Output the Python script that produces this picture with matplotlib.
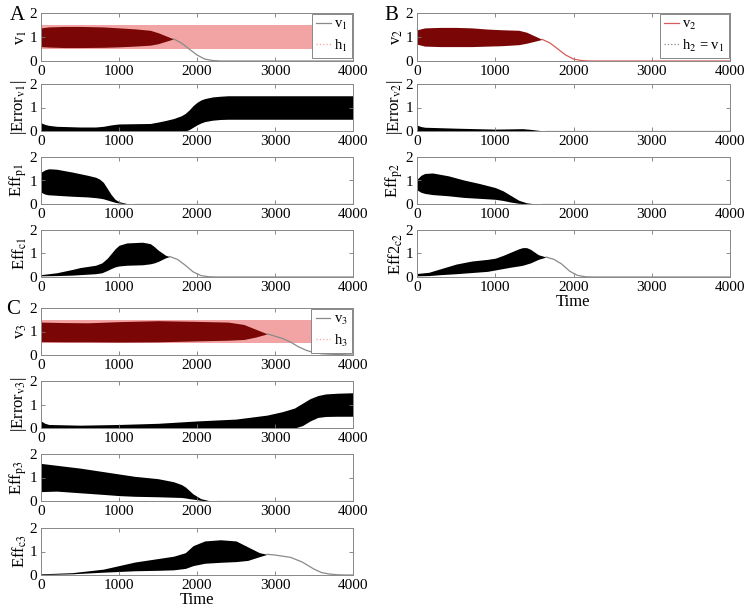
import numpy as np
import matplotlib
matplotlib.use("Agg")
import matplotlib.pyplot as plt
from matplotlib.lines import Line2D

plt.rcParams['font.family'] = ['Liberation Serif', 'DejaVu Serif']
plt.rcParams['mathtext.fontset'] = 'stix'

# ---- data (envelopes of the fast oscillations) ----
t_h = [0, 4000]
h_hi = [1.5, 1.5]
h_lo = [0.5, 0.5]

# panel A
t_v1 = [0, 100, 300, 500, 800, 1000, 1200, 1400, 1500, 1600, 1700, 1800, 1900, 2000, 2100, 2200, 2300, 4000]
v1_hi = [1.38, 1.42, 1.44, 1.44, 1.42, 1.38, 1.34, 1.28, 1.18, 1.05, 0.92, 0.75, 0.50, 0.25, 0.08, 0.02, 0.0, 0.0]
v1_lo = [0.60, 0.58, 0.56, 0.56, 0.57, 0.59, 0.62, 0.66, 0.72, 0.82, 0.92, 0.75, 0.50, 0.25, 0.08, 0.02, 0.0, 0.0]

t_e1 = [0, 50, 100, 200, 500, 700, 800, 900, 1000, 1400, 1500, 1600, 1700, 1800, 1850, 1900, 1950, 2000, 2050, 2100, 2200, 2300, 2400, 4000]
e1_hi = [0.35, 0.28, 0.24, 0.20, 0.17, 0.17, 0.20, 0.26, 0.30, 0.32, 0.38, 0.45, 0.53, 0.65, 0.75, 0.90, 1.08, 1.22, 1.32, 1.38, 1.45, 1.48, 1.50, 1.50]
e1_lo = [0.0, 0.0, 0.0, 0.0, 0.0, 0.0, 0.0, 0.0, 0.0, 0.0, 0.0, 0.0, 0.0, 0.0, 0.0, 0.06, 0.16, 0.26, 0.34, 0.40, 0.46, 0.49, 0.50, 0.50]

t_p1 = [0, 50, 100, 200, 400, 600, 700, 750, 800, 850, 900, 950, 1000, 1100, 1200, 4000]
p1_hi = [1.35, 1.45, 1.50, 1.48, 1.36, 1.22, 1.14, 1.06, 0.92, 0.66, 0.40, 0.20, 0.10, 0.02, 0.0, 0.0]
p1_lo = [0.50, 0.42, 0.39, 0.37, 0.33, 0.30, 0.27, 0.25, 0.22, 0.17, 0.12, 0.07, 0.04, 0.01, 0.0, 0.0]

t_c1 = [0, 200, 400, 500, 700, 780, 850, 900, 950, 1000, 1100, 1300, 1400, 1450, 1500, 1600, 1650, 1750, 1850, 1950, 2050, 2150, 2250, 4000]
c1_hi = [0.10, 0.18, 0.32, 0.40, 0.50, 0.60, 0.80, 1.00, 1.20, 1.35, 1.45, 1.48, 1.42, 1.30, 1.15, 0.92, 0.87, 0.75, 0.50, 0.22, 0.06, 0.01, 0.0, 0.0]
c1_lo = [0.05, 0.06, 0.08, 0.10, 0.14, 0.18, 0.28, 0.36, 0.43, 0.47, 0.50, 0.52, 0.56, 0.60, 0.66, 0.82, 0.87, 0.75, 0.50, 0.22, 0.06, 0.01, 0.0, 0.0]

# panel B
t_v2 = [0, 100, 300, 500, 700, 900, 1100, 1300, 1400, 1500, 1600, 1700, 1800, 1900, 2000, 2100, 2200, 4000]
v2_hi = [1.30, 1.38, 1.40, 1.40, 1.38, 1.33, 1.30, 1.28, 1.20, 1.05, 0.90, 0.75, 0.50, 0.25, 0.08, 0.02, 0.0, 0.0]
v2_lo = [0.70, 0.62, 0.60, 0.60, 0.60, 0.62, 0.64, 0.68, 0.74, 0.82, 0.90, 0.75, 0.50, 0.25, 0.08, 0.02, 0.0, 0.0]

t_e2 = [0, 50, 100, 300, 500, 1000, 1350, 1450, 1550, 1650, 4000]
e2_hi = [0.25, 0.19, 0.16, 0.14, 0.12, 0.08, 0.10, 0.07, 0.03, 0.0, 0.0]
e2_lo = [0.0, 0.0, 0.0, 0.0, 0.0, 0.0, 0.0, 0.0, 0.0, 0.0, 0.0]

t_p2 = [0, 50, 100, 200, 400, 600, 800, 1000, 1100, 1200, 1300, 1400, 1500, 1600, 4000]
p2_hi = [1.05, 1.22, 1.30, 1.32, 1.20, 1.02, 0.87, 0.70, 0.56, 0.36, 0.16, 0.05, 0.01, 0.0, 0.0]
p2_lo = [0.60, 0.50, 0.45, 0.40, 0.35, 0.28, 0.24, 0.20, 0.15, 0.08, 0.03, 0.01, 0.0, 0.0, 0.0]

t_c2 = [0, 150, 300, 500, 700, 900, 1000, 1100, 1200, 1300, 1350, 1400, 1450, 1550, 1650, 1750, 1850, 1950, 2050, 2150, 2250, 4000]
c2_hi = [0.15, 0.20, 0.35, 0.55, 0.68, 0.75, 0.80, 0.92, 1.06, 1.20, 1.25, 1.25, 1.18, 0.95, 0.85, 0.75, 0.55, 0.25, 0.07, 0.01, 0.0, 0.0]
c2_lo = [0.05, 0.06, 0.10, 0.14, 0.19, 0.24, 0.30, 0.36, 0.42, 0.47, 0.50, 0.55, 0.60, 0.75, 0.85, 0.75, 0.55, 0.25, 0.07, 0.01, 0.0, 0.0]

# panel C
t_v3 = [0, 300, 600, 1000, 1500, 2000, 2400, 2600, 2750, 2900, 3000, 3100, 3200, 3300, 3400, 3500, 3600, 3800, 4000]
v3_hi = [1.40, 1.38, 1.37, 1.42, 1.46, 1.43, 1.40, 1.30, 1.10, 0.90, 0.80, 0.70, 0.55, 0.35, 0.20, 0.10, 0.05, 0.02, 0.0]
v3_lo = [0.57, 0.56, 0.56, 0.55, 0.56, 0.60, 0.63, 0.66, 0.76, 0.90, 0.80, 0.70, 0.55, 0.35, 0.20, 0.10, 0.05, 0.02, 0.0]

t_e3 = [0, 50, 100, 500, 1000, 1500, 2000, 2500, 2900, 3100, 3250, 3350, 3450, 3550, 3650, 3800, 4000]
e3_hi = [0.30, 0.20, 0.15, 0.12, 0.15, 0.20, 0.30, 0.38, 0.55, 0.70, 0.85, 1.05, 1.25, 1.38, 1.45, 1.48, 1.50]
e3_lo = [0.0, 0.0, 0.0, 0.0, 0.0, 0.0, 0.0, 0.0, 0.0, 0.0, 0.0, 0.10, 0.30, 0.45, 0.49, 0.50, 0.50]

t_p3 = [0, 200, 500, 800, 1000, 1200, 1500, 1700, 1800, 1850, 1900, 1950, 2050, 2150, 2250, 4000]
p3_hi = [1.60, 1.52, 1.40, 1.25, 1.15, 1.05, 0.95, 0.82, 0.70, 0.60, 0.45, 0.30, 0.10, 0.02, 0.0, 0.0]
p3_lo = [0.40, 0.42, 0.35, 0.28, 0.23, 0.20, 0.18, 0.16, 0.15, 0.13, 0.10, 0.08, 0.03, 0.0, 0.0, 0.0]

t_c3 = [0, 400, 800, 1000, 1200, 1500, 1700, 1850, 1950, 2100, 2300, 2500, 2650, 2800, 2900, 3000, 3200, 3350, 3500, 3600, 3700, 3800, 3900, 4000]
c3_hi = [0.05, 0.10, 0.25, 0.40, 0.55, 0.70, 0.80, 0.95, 1.25, 1.45, 1.50, 1.45, 1.20, 0.95, 0.88, 0.85, 0.75, 0.55, 0.25, 0.10, 0.04, 0.01, 0.0, 0.0]
c3_lo = [0.02, 0.05, 0.12, 0.15, 0.18, 0.20, 0.22, 0.28, 0.40, 0.50, 0.54, 0.57, 0.62, 0.78, 0.88, 0.85, 0.75, 0.55, 0.25, 0.10, 0.04, 0.01, 0.0, 0.0]

ylabels_A = [r'v$_1$', r'|Error$_{\mathrm{v1}}$|', r'Eff$_{\mathrm{p1}}$', r'Eff$_{\mathrm{c1}}$']
ylabels_B = [r'v$_2$', r'|Error$_{\mathrm{v2}}$|', r'Eff$_{\mathrm{p2}}$', r'Eff2$_{\mathrm{c2}}$']
ylabels_C = [r'v$_3$', r'|Error$_{\mathrm{v3}}$|', r'Eff$_{\mathrm{p3}}$', r'Eff$_{\mathrm{c3}}$']

PINK = '#f2a4a4'
DARK = '#7a0606'
GRAY = '#8a8a8a'
REDL = '#d85a5a'

W, H = 750, 612
fig = plt.figure(figsize=(7.5, 6.12), dpi=100)


def make_ax(x0, x1, y0, y1):
    ax = fig.add_axes([x0 / W, 1 - y1 / H, (x1 - x0) / W, (y1 - y0) / H])
    ax.set_xlim(0, 4000)
    ax.set_ylim(0, 2)
    ax.set_xticks([0, 1000, 2000, 3000, 4000])
    ax.set_yticks([0, 1, 2])
    ax.tick_params(direction='in', top=True, right=True, length=3, width=0.6,
                   color='#777777', labelsize=11, pad=3)
    for s in ax.spines.values():
        s.set_color('#888888')
        s.set_linewidth(0.7)
    return ax


def band(ax, t, hi, lo, color, linecolor):
    t = np.asarray(t, float)
    hi = np.asarray(hi, float)
    lo = np.asarray(lo, float)
    ax.fill_between(t, lo, hi, color=color, lw=0)
    tail = np.where(np.abs(hi - lo) < 1e-9, hi, np.nan)
    ax.plot(t, tail, color=linecolor, lw=0.9)


rows_AB = [(13, 61), (84, 131), (157, 204), (230, 277)]
rows_C = [(308, 355), (381, 428), (454, 501), (528, 575)]

# panel A
axA = [make_ax(41, 353, r0, r1) for r0, r1 in rows_AB]
axA[0].fill_between(t_h, h_lo, h_hi, color=PINK, lw=0)
band(axA[0], t_v1, v1_hi, v1_lo, DARK, GRAY)
band(axA[1], t_e1, e1_hi, e1_lo, 'black', GRAY)
band(axA[2], t_p1, p1_hi, p1_lo, 'black', GRAY)
band(axA[3], t_c1, c1_hi, c1_lo, 'black', GRAY)

# panel B
axB = [make_ax(417, 730, r0, r1) for r0, r1 in rows_AB]
band(axB[0], t_v2, v2_hi, v2_lo, DARK, REDL)
band(axB[1], t_e2, e2_hi, e2_lo, 'black', GRAY)
band(axB[2], t_p2, p2_hi, p2_lo, 'black', GRAY)
band(axB[3], t_c2, c2_hi, c2_lo, 'black', GRAY)
axB[3].set_xlabel('Time', fontsize=12, labelpad=0)

# panel C
axC = [make_ax(41, 353, r0, r1) for r0, r1 in rows_C]
axC[0].fill_between(t_h, h_lo, h_hi, color=PINK, lw=0)
band(axC[0], t_v3, v3_hi, v3_lo, DARK, GRAY)
band(axC[1], t_e3, e3_hi, e3_lo, 'black', GRAY)
band(axC[2], t_p3, p3_hi, p3_lo, 'black', GRAY)
band(axC[3], t_c3, c3_hi, c3_lo, 'black', GRAY)
axC[3].set_xlabel('Time', fontsize=12, labelpad=0)

for axs, labs in ((axA, ylabels_A), (axB, ylabels_B), (axC, ylabels_C)):
    for ax, lab in zip(axs, labs):
        ax.set_ylabel(lab, fontsize=12, labelpad=0)

leg_kw = dict(loc='upper right', fontsize=10.5, frameon=True, fancybox=False,
              framealpha=1, edgecolor='#888888', borderaxespad=0.05,
              handlelength=1.0, handletextpad=0.25, borderpad=0.3, labelspacing=0.35)
for ax, names in ((axA[0], (r'v$_1$', r'h$_1$')), (axC[0], (r'v$_3$', r'h$_3$'))):
    hs = [Line2D([], [], color=GRAY, lw=0.9), Line2D([], [], color=PINK, lw=0.9, ls=':')]
    ax.legend(hs, names, **leg_kw).get_frame().set_linewidth(0.7)
hs = [Line2D([], [], color=REDL, lw=0.9), Line2D([], [], color=GRAY, lw=0.9, ls=':')]
axB[0].legend(hs, [r'v$_2$', r'h$_2$ = v$_1$'], **leg_kw).get_frame().set_linewidth(0.7)

fig.text(10 / W, 1 - 15 / H, 'A', fontsize=15, va='center', ha='left')
fig.text(384 / W, 1 - 15 / H, 'B', fontsize=15, va='center', ha='left')
fig.text(6 / W, 1 - 309 / H, 'C', fontsize=15, va='center', ha='left')

fig.savefig('out.png', dpi=100)
